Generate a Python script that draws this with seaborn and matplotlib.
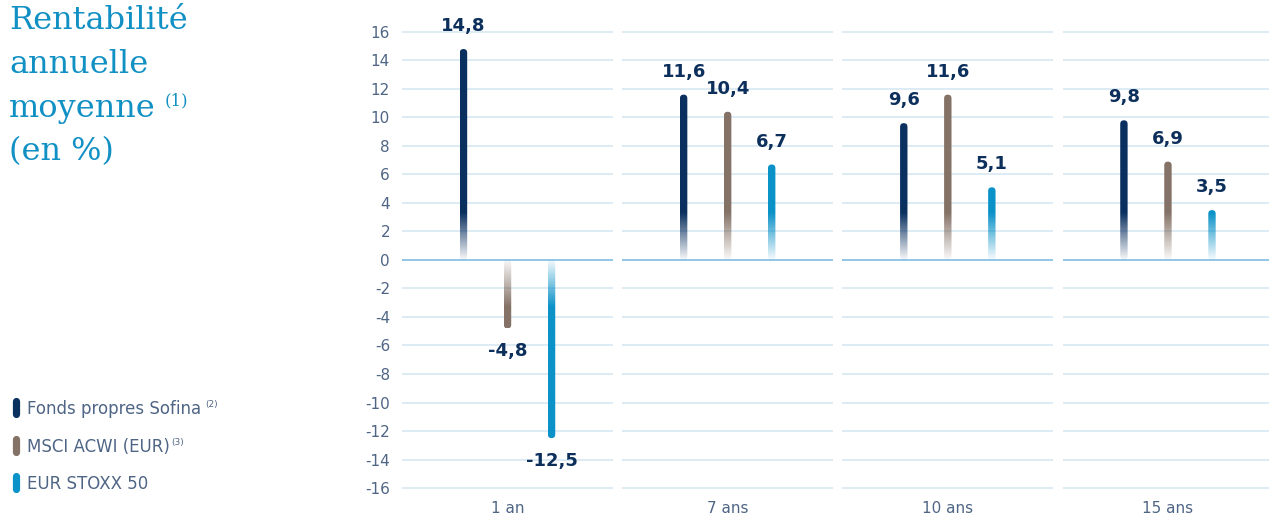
import numpy as np
import pandas as pd
import matplotlib
matplotlib.use('Agg')
import matplotlib.pyplot as plt
import seaborn as sns
from matplotlib.lines import Line2D
from matplotlib.patches import FancyBboxPatch
from matplotlib.colors import to_rgb

# données
periods = ["1 an", "7 ans", "10 ans", "15 ans"]
series = ["Fonds propres Sofina", "MSCI ACWI (EUR)", "EUR STOXX 50"]
notes = ["(2)", "(3)", ""]
sofina = [14.8, 11.6, 9.6, 9.8]
msci = [-4.8, 10.4, 11.6, 6.9]
stoxx = [-12.5, 6.7, 5.1, 3.5]
yticks = list(range(-16, 17, 2))

colors = ["#0a3060", "#857267", "#0b92c8"]
title_c = "#1190c4"
text_c = "#4f6585"
label_c = "#0c2f5b"
grid_c = "#d3e5f2"
zero_c = "#74b5df"

df = pd.DataFrame({
    "period": np.tile(periods, 3),
    "serie": np.repeat(series, len(periods)),
    "value": sofina + msci + stoxx,
})

sns.set_style("white")
plt.rcParams['font.family'] = ['DejaVu Sans']

W, H = 1269, 518
fig = plt.figure(figsize=(W / 100, H / 100), dpi=100)
ax = fig.add_axes([397 / W, 23 / H, (W - 397) / W, 490 / H])

sns.barplot(data=df, x="period", y="value", hue="serie", order=periods,
            hue_order=series, palette=colors, width=0.6, saturation=1,
            errorbar=None, legend=False, ax=ax)

px_y = 14.25   # pixels par unité (y)
px_x = 220.2   # pixels par catégorie (x)
half_px = 3.7
hw = half_px / px_x
fade = 3.3


def draw_bar(cx, v, color):
    a = abs(v)
    rgb = to_rgb(color)
    n = 300
    ys = np.linspace(0, a, n)
    img = np.ones((n, 2, 4))
    img[..., :3] = rgb
    img[..., 3] = np.clip(0.03 + 0.97 * ys / fade, 0, 1)[:, None]
    if v > 0:
        ext = [cx - hw, cx + hw, 0, v]
        y0 = 0
    else:
        img = img[::-1]
        ext = [cx - hw, cx + hw, v, 0]
        y0 = v
    clip = FancyBboxPatch((cx - hw, y0), 2 * hw, a,
                          boxstyle=f"round,pad=0,rounding_size={hw}",
                          mutation_aspect=px_x / px_y,
                          transform=ax.transData, facecolor='none', edgecolor='none')
    im = ax.imshow(img, extent=ext, origin='lower', aspect='auto',
                   interpolation='bilinear', zorder=3)
    im.set_clip_path(clip)


for p in list(ax.patches):
    cx = p.get_x() + p.get_width() / 2
    v = p.get_height()
    col = p.get_facecolor()
    p.set_visible(False)
    draw_bar(cx, v, col)
    off = 1.6 if v > 0 else -1.6
    ax.text(cx, v + off, f"{v:.1f}".replace(".", ","), ha='center', va='center',
            fontsize=13, fontweight='bold', color=label_c, zorder=4)

# grille coupée par groupe
for i in range(len(periods)):
    for y in yticks:
        ax.hlines(y, i - 0.479, i + 0.479, color=zero_c if y == 0 else grid_c,
                  lw=1.1, zorder=1)

ax.set_xlim(-0.502, 3.459)
ax.set_ylim(-16.49, 17.89)
ax.set_yticks(yticks)
ax.set_yticklabels([str(t) for t in yticks])
ax.tick_params(axis='y', length=0, pad=5, labelsize=11, labelcolor=text_c)
ax.tick_params(axis='x', length=0, pad=4, labelsize=11, labelcolor=text_c)
ax.set_xlabel("")
ax.set_ylabel("")
for sp in ax.spines.values():
    sp.set_visible(False)

# titre
title_lines = ["Rentabilité", "annuelle", "moyenne", "(en %)"]
baselines = [29, 73, 117, 160]
title_txt = []
for t, b in zip(title_lines, baselines):
    title_txt.append(fig.text(9 / W, 1 - b / H, t, family='DejaVu Serif', fontsize=23,
                              color=title_c, va='baseline', ha='left'))

renderer = fig.canvas.get_renderer()
bb = title_txt[2].get_window_extent(renderer)
fig.text((bb.x1 + 9) / W, 1 - 105 / H, "(1)", family='DejaVu Serif', fontsize=12,
         color=title_c, va='baseline', ha='left')

# légende
leg_base = [414, 452, 489]
for name, note, col, b in zip(series, notes, colors, leg_base):
    yc = b - 6.5
    fig.add_artist(Line2D([16 / W, 16 / W], [1 - (yc - 6.5) / H, 1 - (yc + 6.5) / H],
                          transform=fig.transFigure, color=col, lw=5.2,
                          solid_capstyle='round'))
    t = fig.text(27 / W, 1 - b / H, name, fontsize=12, color=text_c,
                 va='baseline', ha='left')
    if note:
        tb = t.get_window_extent(renderer)
        gap = 4 if note == "(2)" else 1
        fig.text((tb.x1 + gap) / W, 1 - (b - 7) / H, note, fontsize=6.5,
                 color=text_c, va='baseline', ha='left')

fig.savefig("out.png", dpi=100)
